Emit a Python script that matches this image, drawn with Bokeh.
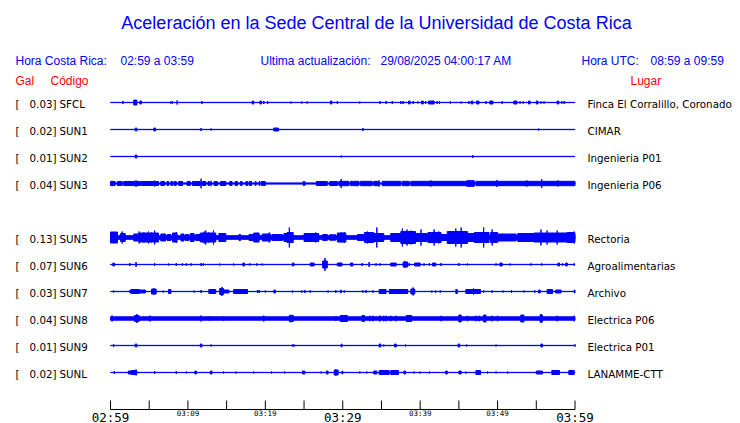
from bokeh.plotting import figure
from bokeh.models import Range1d, ColumnDataSource
from bokeh.core.properties import value
from bokeh.embed import file_html
from bokeh.resources import INLINE

# ---------------- data ----------------
TITLE = "Aceleración en la Sede Central de la Universidad de Costa Rica"
HORA_CR = "02:59 a 03:59"
HORA_UTC = "08:59 a 09:59"
UPDATED = "29/08/2025 04:00:17 AM"

slot_order = ["SFCL", "SUN1", "SUN2", "SUN3", "SUN4", "SUN5", "SUN6", "SUN7", "SUN8", "SUN9", "SUNL"]
codes = ["SFCL", "SUN1", "SUN2", "SUN3", "SUN5", "SUN6", "SUN7", "SUN8", "SUN9", "SUNL"]
gal = [0.03, 0.02, 0.01, 0.04, 0.13, 0.07, 0.03, 0.04, 0.01, 0.02]
places = ["Finca El Corralillo, Coronado", "CIMAR", "Ingenieria P01", "Ingenieria P06",
          "Rectoria", "Agroalimentarias", "Archivo", "Electrica P06", "Electrica P01", "LANAMME-CTT"]
noise_floor = [0.15, 0.15, 0.15, 0.6, 1.8, 0.15, 0.15, 1.7, 0.15, 0.15]

tick_minutes = [0, 5, 10, 15, 20, 25, 30, 35, 40, 45, 50, 55, 60]
label_minutes = [0, 10, 20, 30, 40, 50, 60]
tick_labels = ["02:59", "03:09", "03:19", "03:29", "03:39", "03:49", "03:59"]
label_big = [True, False, False, True, False, False, True]

# bursts: (start minute, end minute, half amplitude)
bursts_SFCL = [(1.6,1.6,1.5),(3.0,3.4,2.5),(3.8,4.0,1.5),(7.8,7.8,1.2),(8.0,8.0,1.2),(8.6,8.6,2),(11.8,11.8,1.5),
    (18.3,18.5,1.5),(19.3,19.5,1.5),(19.8,19.8,1.5),(20.3,20.3,1.5),(23.3,23.3,1),(24.7,24.7,1),(25.4,25.4,1),
    (28.4,28.6,1.5),(29.3,29.3,1.5),(32.2,32.2,1),(34.8,34.8,1.5),(35.6,35.6,1.5),(36.4,36.4,1.5),(37.5,37.5,1.5),
    (37.8,37.8,1.5),(38.5,38.7,1.5),(39.1,39.1,1.5),(39.7,39.7,1),(40.2,40.4,1.5),(40.7,40.7,1.5),(41.1,41.8,1.5),
    (42.2,42.2,1.5),(42.5,42.5,1.5),(43.9,43.9,1.2),(45.3,45.3,1),(46.3,46.3,1.5),(46.6,46.8,1.5),(47.3,47.6,1.5),
    (48.5,48.5,1.5),(49.0,49.4,1.5),(50.6,50.6,1.5),(52.1,52.5,1.5),(52.9,52.9,1.2),(53.3,53.3,1.2),(54.0,54.2,1.5),
    (55.0,55.2,1.5),(55.6,55.6,1.2),(56.0,56.0,1.2),(57.7,57.9,1.5),(58.3,58.3,1.2),(58.6,58.6,1.5)]
bursts_SUN1 = [(3.2,3.4,1.5),(5.6,5.8,1.5),(11.7,11.7,1.5),(13.0,13.0,1),(21.1,21.7,1.5),(32.6,32.6,1.5),(55.3,55.3,1)]
bursts_SUN2 = [(3.2,3.4,1.5),(29.8,29.8,1),(46.8,46.8,1.5)]
bursts_SUN3 = [(0.0,0.6,2),(0.9,1.5,2),(1.7,3.2,2),(3.4,3.9,2),(4.0,5.6,2),(5.8,6.2,2),(6.5,7.0,2),(7.3,7.5,2),
    (7.8,8.0,2),(8.2,8.5,2),(8.8,9.3,2),(9.9,10.3,2),(10.6,11.6,2),(11.9,12.3,2),(12.6,12.8,2),(13.4,13.8,2),
    (14.2,14.9,2),(15.4,15.7,2),(16.1,16.4,2),(16.8,17.0,2),(17.5,17.7,2),(17.9,18.2,2),(18.7,18.8,2),(19.2,19.3,2),
    (19.5,20.0,2),(24.9,25.1,2),(26.6,28.0,2),(28.3,29.3,2),(29.5,30.8,2.2),(31.0,31.3,2.2),(31.4,32.1,2.2),
    (32.3,33.8,2.2),(34.0,34.6,2.2),(35.1,37.5,2.2),(37.7,38.6,2.2),(38.8,45.9,2.2),(46.0,47.0,2.8),(47.2,60.0,2.2),
    (0.2,0.2,2.7),(3.3,3.3,3.3),(5.7,5.7,3),(11.7,11.7,4.8),(13.0,13.0,2.7),(14.6,14.6,2.5),(29.8,29.8,4.5),
    (34.7,34.7,3),(41.4,41.4,3),(49.9,49.9,3.5),(53.8,53.8,3),(55.7,55.7,4.5),(57.8,57.8,3)]
bursts_SUN5 = [(0.0,0.9,5.5),(1.3,1.9,4),(1.5,1.5,6),(3.0,3.7,3.5),(3.7,6.2,4.5),(3.7,3.7,6),(4.3,4.3,5),(4.9,4.9,6),
    (5.3,5.3,5),(5.7,5.7,7),(6.5,7.1,3.5),(7.3,7.8,3),(8.0,8.6,4.5),(8.5,8.5,5.5),(9.1,9.5,3.5),(9.7,10.1,3),
    (10.3,10.8,4),(11.0,11.6,3),(11.6,13.6,4.5),(12.1,12.1,6),(12.3,12.3,7),(12.7,12.7,5),(13.3,13.3,7),(14.0,14.9,4),
    (16.6,16.8,3),(17.9,18.5,3),(18.5,19.2,4.5),(19.6,20.7,3.5),(20.5,20.5,5),(20.9,22.2,3),(22.4,22.8,4),(22.8,23.6,5),
    (23.1,23.1,10),(25.0,26.9,4),(25.4,25.4,4.5),(26.5,26.5,5),(27.4,28.0,3),(28.3,29.1,2.7),(29.3,30.4,4.5),
    (30.2,30.2,5.5),(29.8,29.8,5),(31.9,32.8,3),(32.8,34.0,5),(33.2,33.2,6),(33.7,33.7,5),(34.4,34.4,10),(34.0,35.3,4),
    (36.2,37.5,4),(37.5,39.4,6),(37.7,37.7,9),(38.3,38.3,8),(38.8,38.8,7),(39.4,40.9,4),(40.1,40.1,8),(41.0,42.7,5),
    (41.8,41.8,8),(42.4,42.4,6),(42.7,43.6,3),(43.5,46.1,6),(44.6,44.6,9),(45.3,45.3,10),(46.1,47.0,4),(47.0,48.9,5),
    (48.2,48.2,10),(49.1,50.0,5),(49.3,49.3,8),(50.0,52.4,3.5),(52.6,54.7,4),(54.7,56.0,4.5),(55.6,55.6,8),
    (56.0,60.0,4.5),(56.4,56.4,7),(57.7,57.7,7),(59.0,59.9,5),(59.9,59.9,6)]
bursts_SUN6 = [(0.3,0.5,1.5),(2.5,2.5,1.5),(3.3,3.3,2.5),(5.7,5.7,1.5),(7.5,7.5,1),(8.5,8.5,1.5),(9.3,9.3,1.2),
    (9.8,9.8,1.2),(10.4,10.4,1.2),(11.7,11.7,1.5),(12.0,12.0,1.5),(14.1,14.1,1),(15.9,15.9,1),(17.1,17.3,1.5),
    (18.0,18.0,1.2),(18.9,18.9,1.2),(19.6,19.6,1),(23.5,23.7,1.5),(25.8,26.3,1.5),(27.4,28.0,3.5),(27.7,27.7,6.5),
    (29.3,29.9,1.5),(31.0,31.3,1.5),(32.5,32.5,1.5),(33.4,33.4,2.5),(34.3,34.3,1.2),(34.8,34.8,1.2),(36.2,36.9,1.5),
    (37.8,38.4,2.5),(38.0,38.0,3.5),(38.6,38.6,1.5),(39.3,40.0,1.5),(40.5,40.5,1.2),(41.2,41.2,1.2),(41.6,42.0,1.5),
    (42.7,42.7,1.5),(45.0,45.0,1.5),(46.1,46.1,1),(49.8,49.8,1.2),(50.3,50.6,1.5),(51.6,51.6,1),(54.3,54.3,1.2),
    (55.7,55.7,1.2),(57.8,58.0,1.5),(58.4,58.4,1.2),(58.8,59.0,1.5),(59.9,59.9,1.2)]
bursts_SUN7 = [(0.4,0.4,1),(2.5,4.5,1.5),(2.7,3.7,2),(5.3,5.9,2.5),(5.6,5.6,3),(6.8,6.8,1),(7.5,7.8,2),(10.8,10.8,1),
    (11.7,11.7,1.5),(12.7,13.6,2),(14.1,14.6,3),(14.4,14.4,4.5),(14.6,15.3,1.5),(15.9,17.7,2),(19.0,19.0,1.5),
    (19.2,19.2,1.5),(20.0,20.0,1),(21.1,21.3,1.5),(23.5,23.5,1),(24.7,24.7,1.2),(25.1,25.1,1.5),(25.8,25.8,1.2),
    (28.1,28.1,1),(29.1,29.1,1.5),(29.7,29.8,1.5),(30.2,30.2,1.2),(32.6,32.6,1.2),(33.0,33.0,1.5),(33.9,33.9,1.2),
    (34.7,35.6,2),(36.0,38.4,2),(38.8,39.3,2.5),(39.1,39.1,4),(41.5,41.5,1),(42.0,42.0,1.2),(42.6,42.6,1.2),
    (44.6,44.8,2),(45.9,47.8,2),(46.9,46.9,3),(48.2,48.2,1.2),(49.3,49.3,1.2),(50.7,50.7,1),(51.8,51.8,1.5),
    (53.4,53.4,1),(54.8,54.8,1.2),(55.3,55.5,1.5),(56.4,57.1,2),(57.5,58.2,1.5),(59.9,60.0,1.5)]
bursts_SUN8 = [(0.2,0.2,3),(3.1,3.7,3),(3.4,3.4,4.5),(5.1,5.1,3),(11.7,11.7,3),(12.8,12.8,2.5),(14.6,14.6,2.5),
    (19.8,19.8,3),(23.1,23.6,3.2),(29.1,29.1,2.5),(29.7,30.6,3),(32.5,32.8,3),(33.5,33.5,2.8),(33.9,33.9,2.8),
    (34.8,34.8,3),(35.3,35.3,2.8),(35.6,35.6,2.8),(36.2,36.2,2.8),(36.9,36.9,2.8),(38.2,38.9,3),(42.7,42.7,2.8),
    (45.0,45.3,3.5),(46.1,46.1,2.8),(47.2,47.2,2.8),(47.6,47.6,2.8),(48.2,48.5,3.5),(49.3,49.3,2.8),(50.0,50.0,2.8),
    (53.0,53.4,3.5),(55.5,55.8,3.5),(55.6,55.6,4.5),(57.7,57.7,2.8),(59.9,59.9,2.8)]
bursts_SUN9 = [(0.4,0.4,1.5),(3.2,3.4,1.5),(11.6,11.8,1.5),(13.0,13.0,1),(23.5,23.5,1),(23.7,23.7,1.2),(29.8,29.9,1.5),
    (34.7,34.9,1.5),(35.3,35.3,1),(36.7,36.9,1.5),(38.1,38.1,1),(44.9,45.1,1.5),(46.0,46.0,1),(49.8,49.8,1),
    (55.6,55.8,1.5),(60.0,60.0,1.2)]
bursts_SUNL = [(0.5,0.5,1.5),(2.3,3.4,1.5),(2.7,3.3,2),(3.3,3.3,3),(5.7,5.7,1.5),(8.5,8.5,1.5),(9.8,9.8,1),
    (10.9,11.1,1.5),(12.9,13.1,1.5),(14.6,14.6,1),(16.2,16.2,1),(18.5,18.5,1),(20.8,20.8,1),(22.5,22.5,1),
    (24.8,25.1,1.5),(27.2,27.2,1),(27.9,28.1,1.5),(28.9,29.4,2.5),(29.1,29.1,3),(29.9,30.0,1.5),(32.2,32.2,1),
    (33.1,33.1,1),(34.0,34.4,1.5),(34.7,36.0,2),(36.2,37.2,2),(37.9,38.1,1.5),(39.2,39.2,1),(40.0,40.0,1),
    (41.2,41.2,1),(43.3,43.5,1.5),(45.0,45.3,1.5),(45.9,45.9,1),(47.2,47.8,2),(48.7,48.7,1),(49.8,49.8,1),
    (51.3,51.3,1),(55.0,55.8,1.5),(57.0,58.0,2),(59.2,59.9,2)]

bursts = [bursts_SFCL, bursts_SUN1, bursts_SUN2, bursts_SUN3, bursts_SUN5,
          bursts_SUN6, bursts_SUN7, bursts_SUN8, bursts_SUN9, bursts_SUNL]

# ---------------- layout (screen pixels -> data) ----------------
W, H = 740, 423
OFF = 0
T0_PX, T60_PX = 110.0, 574.5
PX_PER_MIN = (T60_PX - T0_PX) / 60.0
ROW0_PX, ROW_PX = 102.0, 27.0
AMP = 1.0 / ROW_PX  # amplitude units are pixel-sized


def X(sx):
    return (sx - T0_PX) / PX_PER_MIN


def Y(sy):
    return (sy - ROW0_PX) / ROW_PX


p = figure(width=W, height=H, x_range=Range1d(X(OFF), X(OFF + W)),
           y_range=Range1d(Y(OFF + H), Y(OFF)),
           output_backend="svg", toolbar_location=None,
           x_axis_type=None, y_axis_type=None, min_border=0)
p.outline_line_color = None
p.grid.visible = False
p.background_fill_color = "white"

BLUE = "#0000FF"
RED = "#FF0000"
SANS = "Liberation Sans"
DV = "DejaVu Sans"

slots = [slot_order.index(c) for c in codes]

# baseline bands
bl = dict(left=[], right=[], top=[], bottom=[])
for s, nf in zip(slots, noise_floor):
    bl["left"].append(0)
    bl["right"].append(60)
    bl["top"].append(s - nf * AMP)
    bl["bottom"].append(s + nf * AMP)
p.quad(source=ColumnDataSource(bl), left="left", right="right", top="top", bottom="bottom",
       fill_color=BLUE, line_color=BLUE, line_width=1)

# bursts
bd = dict(left=[], right=[], top=[], bottom=[])
for s, bl_list in zip(slots, bursts):
    for t0, t1, a in bl_list:
        bd["left"].append(t0)
        bd["right"].append(t1)
        bd["top"].append(s - a * AMP)
        bd["bottom"].append(s + a * AMP)
p.quad(source=ColumnDataSource(bd), left="left", right="right", top="top", bottom="bottom",
       fill_color=BLUE, line_color=BLUE, line_width=1)


def label(sx, sy, txt, size, color, font, align="left"):
    p.text(x=[X(sx)], y=[Y(sy)], text=[txt], text_font=value(font), text_font_size=size,
           text_color=color, text_align=align, text_baseline="middle")


# title and headers
label(376, 22, TITLE, "18px", BLUE, SANS, "center")
label(15, 60, "Hora Costa Rica:", "12px", BLUE, SANS)
label(120, 60, HORA_CR, "12px", BLUE, SANS)
label(260, 60, "Ultima actualización:", "12px", BLUE, SANS)
label(380, 60, UPDATED, "12px", BLUE, SANS)
label(581, 60, "Hora UTC:", "12px", BLUE, SANS)
label(650, 60, HORA_UTC, "12px", BLUE, SANS)
label(15, 80, "Gal", "12px", RED, SANS)
label(50, 80, "Código", "12px", RED, SANS)
label(630, 80, "Lugar", "12px", RED, SANS)

# station labels
n = len(codes)
ys = [s + 1.0 / ROW_PX for s in slots]
p.text(x=[X(15)] * n, y=ys, text=["["] * n, text_font=value(DV), text_font_size="10.3px",
       text_color="black", text_align="left", text_baseline="middle")
p.text(x=[X(56)] * n, y=ys, text=["%.2f]" % g for g in gal], text_font=value(DV),
       text_font_size="10.3px", text_color="black", text_align="right", text_baseline="middle")
p.text(x=[X(59)] * n, y=ys, text=codes, text_font=value(DV), text_font_size="10.3px",
       text_color="black", text_align="left", text_baseline="middle")
p.text(x=[X(587)] * n, y=ys, text=places, text_font=value(DV), text_font_size="10.3px",
       text_color="black", text_align="left", text_baseline="middle")

# time axis
AX_Y = Y(409)
TICK_TOP = Y(400)
p.segment(x0=[tick_minutes[0]], x1=[tick_minutes[-1]], y0=[AX_Y], y1=[AX_Y], line_color="black", line_width=1)
p.segment(x0=tick_minutes, x1=tick_minutes, y0=[AX_Y] * len(tick_minutes), y1=[TICK_TOP] * len(tick_minutes),
          line_color="black", line_width=1)
big_x = [m for m, b in zip(label_minutes, label_big) if b]
big_t = [t for t, b in zip(tick_labels, label_big) if b]
sm_x = [m for m, b in zip(label_minutes, label_big) if not b]
sm_t = [t for t, b in zip(tick_labels, label_big) if not b]
p.text(x=big_x, y=[Y(416.5)] * len(big_x), text=big_t, text_font=value("DejaVu Sans Mono"),
       text_font_size="12.5px", text_color="black", text_align="center", text_baseline="middle")
p.text(x=sm_x, y=[Y(413)] * len(sm_x), text=sm_t, text_font=value("DejaVu Sans Mono"),
       text_font_size="7.5px", text_color="black", text_align="center", text_baseline="middle")

open("out.html", "w").write(file_html(p, INLINE))
